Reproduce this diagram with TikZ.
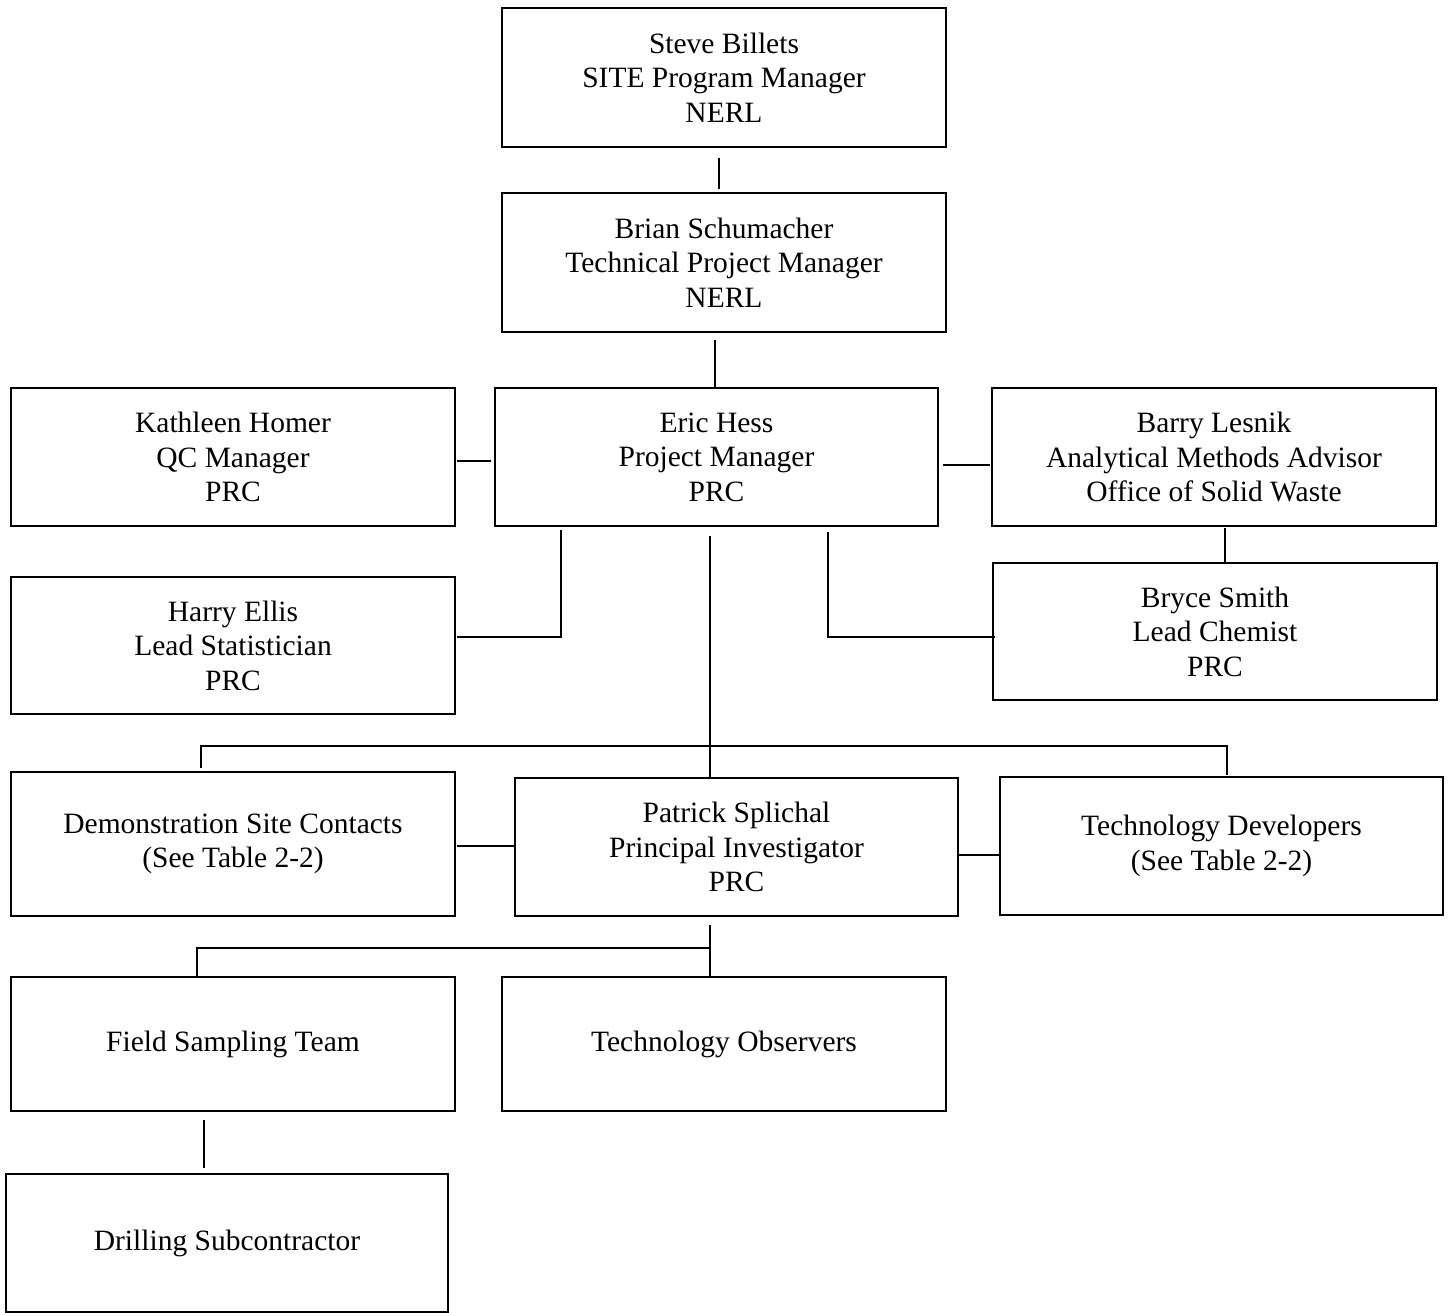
\documentclass[tikz,border=0pt]{standalone}
\usepackage{fontspec}
\setmainfont{Liberation Serif}
\begin{document}
\begin{tikzpicture}[x=1pt,y=-1pt,
  box/.style={draw, line width=2.2pt, align=center, inner sep=0pt,
    font=\fontsize{29.5}{34.5}\selectfont},
  conn/.style={line width=2.2pt}]
\useasboundingbox (0,0) rectangle (1448,1313);
\newcommand{\orgbox}[6]{%
  \node[box, minimum width={#4-#2}, minimum height={#5-#3}] (#1) at ({(#2+#4)/2},{(#3+#5)/2}) {#6};}
\orgbox{sb}{502}{8}{946}{147}{Steve Billets\\SITE Program Manager\\NERL}
\orgbox{bs}{502}{193}{946}{332}{Brian Schumacher\\Technical Project Manager\\NERL}
\orgbox{kh}{11}{388}{455}{526}{Kathleen Homer\\QC Manager\\PRC}
\orgbox{eh}{495}{388}{938}{526}{Eric Hess\\Project Manager\\PRC}
\orgbox{bl}{992}{388}{1436}{526}{Barry Lesnik\\Analytical Methods Advisor\\Office of Solid Waste}
\orgbox{he}{11}{577}{455}{714}{Harry Ellis\\Lead Statistician\\PRC}
\orgbox{bsm}{993}{563}{1437}{700}{Bryce Smith\\Lead Chemist\\PRC}
\orgbox{dsc}{11}{772}{455}{916}{Demonstration Site Contacts\\(See Table 2-2)}
\orgbox{ps}{515}{778}{958}{916}{Patrick Splichal\\Principal Investigator\\PRC}
\orgbox{td}{1000}{777}{1443}{915}{Technology Developers\\(See Table 2-2)}
\orgbox{fst}{11}{977}{455}{1111}{Field Sampling Team}
\orgbox{to}{502}{977}{946}{1111}{Technology Observers}
\orgbox{ds}{6}{1174}{448}{1312}{Drilling Subcontractor}
% connector end points
\coordinate (a1) at (719,158); \coordinate (a2) at (719,189);
\coordinate (b1) at (715,340); \coordinate (b2) at (715,388);
\coordinate (c1) at (457,461); \coordinate (c2) at (491,461);
\coordinate (d1) at (943,465); \coordinate (d2) at (990,465);
\coordinate (e1) at (1225,528); \coordinate (e2) at (1225,563);
\coordinate (f1) at (561,530); \coordinate (f2) at (561,637); \coordinate (f3) at (457,637);
\coordinate (g1) at (828,532); \coordinate (g2) at (828,637); \coordinate (g3) at (995,637);
\coordinate (h1) at (710,536); \coordinate (h2) at (710,778);
\coordinate (i1) at (201,768); \coordinate (i2) at (201,746); \coordinate (i3) at (1227,746); \coordinate (i4) at (1227,775);
\coordinate (j1) at (457,846); \coordinate (j2) at (515,846);
\coordinate (k1) at (958,855); \coordinate (k2) at (1000,855);
\coordinate (l1) at (710,925); \coordinate (l2) at (710,977);
\coordinate (m1) at (197,977); \coordinate (m2) at (197,948); \coordinate (m3) at (710,948);
\coordinate (n1) at (204,1120); \coordinate (n2) at (204,1168);
\draw[conn] (a1) -- (a2);
\draw[conn] (b1) -- (b2);
\draw[conn] (c1) -- (c2);
\draw[conn] (d1) -- (d2);
\draw[conn] (e1) -- (e2);
\draw[conn] (f1) -- (f2) -- (f3);
\draw[conn] (g1) -- (g2) -- (g3);
\draw[conn] (h1) -- (h2);
\draw[conn] (i1) -- (i2) -- (i3) -- (i4);
\draw[conn] (j1) -- (j2);
\draw[conn] (k1) -- (k2);
\draw[conn] (l1) -- (l2);
\draw[conn] (m1) -- (m2) -- (m3);
\draw[conn] (n1) -- (n2);
\end{tikzpicture}
\end{document}
